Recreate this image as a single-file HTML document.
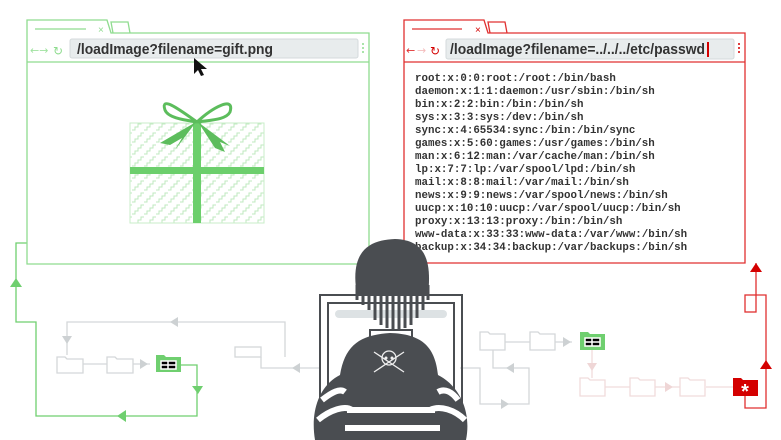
<!DOCTYPE html>
<html><head><meta charset="utf-8"><style>
html,body{margin:0;padding:0;background:#fff;width:781px;height:440px;overflow:hidden}
svg{display:block}
.m{font-family:"Liberation Mono",monospace;font-weight:bold;font-size:10.8px;fill:#333}
.u{font-family:"Liberation Sans",sans-serif;font-weight:bold;font-size:14.5px;fill:#333}
</style></head><body>
<svg width="781" height="440" viewBox="0 0 781 440" xmlns="http://www.w3.org/2000/svg">
<defs>
<pattern id="zz" width="12" height="12" patternUnits="userSpaceOnUse">
<path d="M0 10 h3 v-3 h3 v-3 h3 v-3 h3" fill="none" stroke="#bfe8bf" stroke-width="1"/>
</pattern>
</defs>
<!-- gray flow left -->
<g fill="none" stroke="#d4d7d9" stroke-width="1.3">
<path d="M67 355 V322 H285 V357"/>
<rect x="235" y="347" width="26" height="10"/>
<path d="M261 357 V368 H320"/>
<path d="M83 364 H107 M133 364 H150"/>
<path d="M57 357 h8 l2 2 h16 v14 h-26z"/>
<path d="M107 357 h8 l2 2 h16 v14 h-26z"/>
</g>
<g fill="#cdd1d3">
<path d="M62 336 h10 l-5 8z"/><path d="M178 317 v10 l-8 -5z"/><path d="M300 363 v10 l-8 -5z"/><path d="M140 359 v10 l8 -5z"/>
</g>
<!-- green flow -->
<g fill="none" stroke="#6fcf6f" stroke-width="1.3">
<path d="M16 283 V243 H27"/>
<path d="M16 283 V322 H36 V416 H197 V365 H180"/>
</g>
<g fill="#6fcf6f">
<path d="M10 287 h12 l-6 -9z"/><path d="M192 386 h11 l-5 8z"/><path d="M126 410 v12 l-9 -6z"/>
<path d="M156 355 h8 l2 2 h15 v15 h-25z"/>
</g>
<g stroke="#fff" stroke-width="1.5"><path d="M161 361 h15 v8 h-15z M168 361 v8 M161 365 h15"/></g>
<!-- gray flow right -->
<g fill="none" stroke="#d4d7d9" stroke-width="1.3">
<path d="M480 332 h8 l2 2 h15 v16 h-25z"/>
<path d="M530 332 h8 l2 2 h15 v16 h-25z"/>
<path d="M505 342 H530 M555 342 H572"/>
<path d="M493 350 V368 H529 V404 H480 V368 H460"/>
</g>
<g fill="#cdd1d3"><path d="M563 337 v10 l8 -5z"/><path d="M514 363 v10 l-8 -5z"/><path d="M501 399 v10 l8 -5z"/></g>
<path d="M580 332 h8 l2 2 h15 v16 h-25z" fill="#6fcf6f"/>
<g stroke="#fff" stroke-width="1.5"><path d="M585 338 h15 v8 h-15z M592 338 v8 M585 342 h15"/></g>
<!-- pink flow -->
<g fill="none" stroke="#f0dcdc" stroke-width="1.3">
<path d="M592 350 V378"/>
<path d="M580 378 h8 l2 2 h15 v16 h-25z"/>
<path d="M630 378 h8 l2 2 h15 v16 h-25z"/>
<path d="M680 378 h8 l2 2 h15 v16 h-25z"/>
<path d="M605 387 H630 M655 387 H680 M706 387 H733"/>
</g>
<g fill="#efd6d6"><path d="M587 363 h10 l-5 8z"/><path d="M665 382 v10 l8 -5z"/></g>
<!-- red flow -->
<path d="M733 378 h8 l2 2 h15 v16 h-25z" fill="#d40000"/>
<text x="745" y="398" font-family="Liberation Sans,sans-serif" font-weight="bold" font-size="20" fill="#fff" text-anchor="middle">*</text>
<g fill="none" stroke="#e03030" stroke-width="1.3">
<path d="M745 396 V408 H766 V295 H756 V263"/>
<rect x="745" y="295" width="11" height="17"/>
</g>
<g fill="#d40000"><path d="M760 369 h12 l-6 -9z"/><path d="M750 272 h12 l-6 -9z"/></g>

<!-- green browser -->
<g fill="#fff" stroke="#8fdc8f" stroke-width="1.3">
<path d="M113 33 l-2 -11 h17 l2 11"/>
<path d="M27 264 V20 H107 L111 33 H369 V264 Z"/>
<line x1="27" y1="62" x2="369" y2="62"/>
</g>
<line x1="35" y1="29" x2="86" y2="29" stroke="#8fdc8f" stroke-width="1.3"/>
<text x="98" y="33" font-family="Liberation Sans,sans-serif" font-size="10" fill="#8fdc8f">×</text>
<rect x="70" y="39" width="288" height="19" rx="2" fill="#e8eced" stroke="#d4dadc"/>
<text x="30" y="54" font-family="DejaVu Sans,sans-serif" font-size="11" fill="#9fe29f">←→</text>
<text x="53" y="55" font-family="DejaVu Sans,sans-serif" font-size="12" fill="#8fdc8f">↻</text>
<g fill="#8fdc8f"><circle cx="363" cy="44" r="1"/><circle cx="363" cy="48" r="1"/><circle cx="363" cy="52" r="1"/></g>
<text x="77" y="54" class="u" textLength="196" lengthAdjust="spacingAndGlyphs">/loadImage?filename=gift.png</text>
<path d="M194 58 l0 16 l4 -4 l3 6 l3 -1 l-3 -6 h6z" fill="#111"/>
<!-- gift -->
<rect x="130" y="123" width="134" height="100" fill="url(#zz)" stroke="#c8eec8"/>
<rect x="130" y="167" width="134" height="7" fill="#6ccf6c"/>
<rect x="193" y="120" width="8" height="103" fill="#6ccf6c"/>
<g fill="none" stroke="#5cbd5c" stroke-width="3">
<path d="M197 122 C180 110 160 95 165 110 C168 118 185 120 197 122"/>
<path d="M197 122 C212 108 235 95 230 112 C226 120 210 120 197 122"/>
</g>
<path d="M196 122 L160 143 L170 145 L182 138 L175 150 Z" fill="#5cbd5c"/>
<path d="M198 122 L215 148 L225 152 L220 142 L230 146 Z" fill="#5cbd5c"/>

<!-- red browser -->
<g fill="#fff" stroke="#e03030" stroke-width="1.3">
<path d="M490 33 l-2 -11 h17 l2 11"/>
<path d="M404 263 V20 H484 L488 33 H745 V263 Z"/>
<line x1="404" y1="62" x2="745" y2="62"/>
</g>
<line x1="412" y1="29" x2="462" y2="29" stroke="#e03030" stroke-width="1.3"/>
<text x="475" y="33" font-family="Liberation Sans,sans-serif" font-size="10" fill="#d40000">×</text>
<rect x="446" y="39" width="288" height="20" rx="2" fill="#e8eced" stroke="#d4dadc"/>
<text x="406" y="54" font-family="DejaVu Sans,sans-serif" font-size="11" fill="#e03030">←</text>
<text x="417" y="54" font-family="DejaVu Sans,sans-serif" font-size="11" fill="#f4bcbc">→</text>
<text x="430" y="55" font-family="DejaVu Sans,sans-serif" font-size="12" fill="#d40000">↻</text>
<g fill="#d40000"><circle cx="739" cy="44" r="1"/><circle cx="739" cy="48" r="1"/><circle cx="739" cy="52" r="1"/></g>
<text x="450" y="54" class="u" textLength="255" lengthAdjust="spacingAndGlyphs">/loadImage?filename=../../../etc/passwd</text>
<rect x="707" y="42" width="2" height="15" fill="#d40000"/>
<g class="m">
<text x="415" y="81">root:x:0:0:root:/root:/bin/bash</text>
<text x="415" y="94">daemon:x:1:1:daemon:/usr/sbin:/bin/sh</text>
<text x="415" y="107">bin:x:2:2:bin:/bin:/bin/sh</text>
<text x="415" y="120">sys:x:3:3:sys:/dev:/bin/sh</text>
<text x="415" y="133">sync:x:4:65534:sync:/bin:/bin/sync</text>
<text x="415" y="146">games:x:5:60:games:/usr/games:/bin/sh</text>
<text x="415" y="159">man:x:6:12:man:/var/cache/man:/bin/sh</text>
<text x="415" y="172">lp:x:7:7:lp:/var/spool/lpd:/bin/sh</text>
<text x="415" y="185">mail:x:8:8:mail:/var/mail:/bin/sh</text>
<text x="415" y="198">news:x:9:9:news:/var/spool/news:/bin/sh</text>
<text x="415" y="211">uucp:x:10:10:uucp:/var/spool/uucp:/bin/sh</text>
<text x="415" y="224">proxy:x:13:13:proxy:/bin:/bin/sh</text>
<text x="415" y="237">www-data:x:33:33:www-data:/var/www:/bin/sh</text>
<text x="415" y="250">backup:x:34:34:backup:/var/backups:/bin/sh</text>
</g>

<!-- hacker -->
<g fill="none" stroke="#4a4d51" stroke-width="2">
<path d="M320 440 V295 H462 V440"/>
<path d="M328 440 V303 H454 V440"/>
</g>
<rect x="335" y="310" width="112" height="8" rx="4" fill="#dde2e4"/>
<path d="M357 295 C350 255 365 240 395 239 C425 240 432 260 428 295 Z" fill="#4a4d51"/>
<g stroke="#4a4d51" stroke-width="3">
<path d="M357 285 V300 M363 287 V305 M369 288 V310 M375 289 V320 M381 290 V325 M387 290 V328 M393 290 V330 M399 290 V330 M405 290 V328 M411 289 V325 M417 288 V318 M423 287 V310 M428 285 V300"/>
</g>
<rect x="370" y="330" width="42" height="8" fill="#fff" stroke="#4a4d51" stroke-width="2"/>
<path d="M315 440 C310 410 320 385 340 375 C345 345 360 335 390 333 C420 334 435 345 438 375 C458 385 472 410 466 440 Z" fill="#4a4d51"/>
<g stroke="#fff" stroke-width="6" fill="none">
<path d="M318 420 C330 410 345 405 352 410"/>
<path d="M322 400 C332 392 340 388 345 392"/>
<path d="M347 410 H435"/>
<path d="M345 428 H440"/>
<path d="M430 410 C440 405 455 410 465 420"/>
<path d="M438 392 C445 388 452 392 458 400"/>
</g>
<g fill="none" stroke="#eee" stroke-width="1.3">
<circle cx="389" cy="358" r="7"/>
<path d="M374 352 L404 372 M404 352 L374 372"/>
</g>
<g fill="#eee"><circle cx="386" cy="358" r="1.5"/><circle cx="392" cy="358" r="1.5"/></g>
</svg>
</body></html>
